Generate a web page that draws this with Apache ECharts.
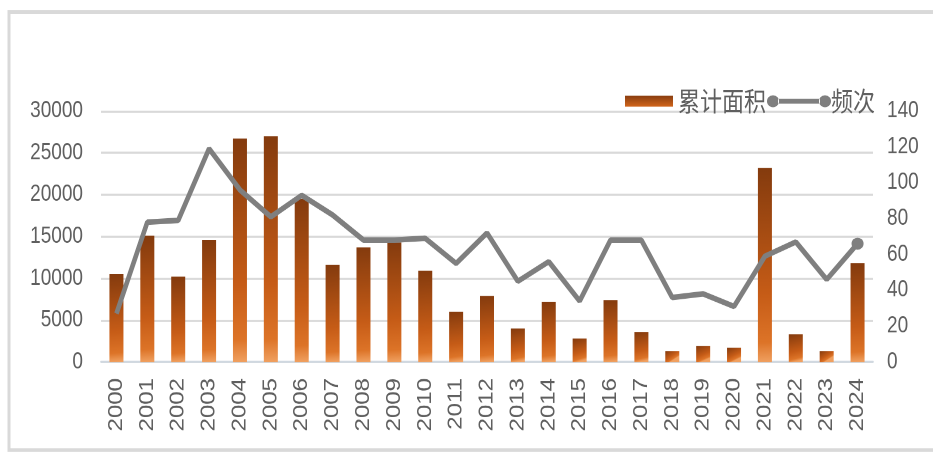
<!DOCTYPE html>
<html>
<head>
<meta charset="utf-8">
<style>
  html, body { margin: 0; padding: 0; background: #ffffff; }
  #frame { width: 933px; height: 452px; overflow: hidden; position: relative; }
  /* the chart is drawn a little shorter and stretched vertically so its text reads tall */
  #chart { width: 933px; height: 376px; transform: scaleY(1.2021); transform-origin: 0 0; }
</style>
<script src="https://cdn.jsdelivr.net/npm/echarts@6/dist/echarts.min.js"></script>
</head>
<body>
<div id="frame"><div id="chart"></div></div>
<script>
// Years on the category axis
const years = ['2000','2001','2002','2003','2004','2005','2006','2007','2008','2009',
  '2010','2011','2012','2013','2014','2015','2016','2017','2018','2019',
  '2020','2021','2022','2023','2024'];

// 累计面积 (left axis)
const areaValues = [10500, 15100, 10200, 14600, 26700, 27000, 19500, 11600, 13700, 14300,
  10900, 6000, 7900, 4000, 7200, 2800, 7400, 3600, 1300, 1900,
  1700, 23200, 3300, 1300, 11800];

// 频次 (right axis)
const countValues = [27, 78, 79, 119, 96, 81, 93, 82, 68, 68,
  69, 55, 72, 45, 56, 34, 68, 68, 36, 38,
  31, 59, 67, 46, 66];

// Axis ranges
const leftAxis = { min: 0, max: 30000, interval: 5000 };
const rightAxis = { min: 0, max: 140, interval: 20 };

// vertical stretch applied by CSS; vertical sizes below are divided by it
const S = 1.2021;
const v = px => px / S;

const textColor = '#5f5f5f';
const gridColor = '#d9d9d9';
const latinFont = '"Liberation Sans", Arial, sans-serif';
const cjkFont = '"Noto Sans CJK SC", "Noto Sans", sans-serif';

const barGradient = new echarts.graphic.LinearGradient(0, 0, 0.35, 1, [
  { offset: 0, color: '#843b0e' },
  { offset: 0.65, color: '#c65c17' },
  { offset: 0.9, color: '#dd7428' },
  { offset: 1, color: '#f0a060' }
]);
const legendBarGradient = new echarts.graphic.LinearGradient(0, 0, 0, 1, [
  { offset: 0, color: '#8a3e10' },
  { offset: 1, color: '#d2661c' }
]);

// Last point of the count line carries a round marker
const countData = countValues.map((val, i) =>
  i === countValues.length - 1 ? { value: val, symbol: 'circle', symbolSize: [12, v(12)] } : val);

// line-with-two-dots legend icon, pre-squashed so it shows round after stretching
const R = 6;
const ry = +(R / S).toFixed(2);
const t = +(2.4 / S).toFixed(2);
const W = 64;
const lineIcon = 'path://' +
  `M0,${ry}A${R},${ry} 0 1,0 ${2 * R},${ry}A${R},${ry} 0 1,0 0,${ry}Z` +
  `M${W - 2 * R},${ry}A${R},${ry} 0 1,0 ${W},${ry}A${R},${ry} 0 1,0 ${W - 2 * R},${ry}Z` +
  `M${2 * R - 1},${(ry - t).toFixed(2)}L${W - 2 * R + 1},${(ry - t).toFixed(2)}` +
  `L${W - 2 * R + 1},${(ry + t).toFixed(2)}L${2 * R - 1},${(ry + t).toFixed(2)}Z`;

const chart = echarts.init(document.getElementById('chart'), null, { renderer: 'canvas', devicePixelRatio: 2 });

chart.setOption({
  animation: false,
  backgroundColor: '#ffffff',
  graphic: [
    {
      type: 'rect',
      shape: { x: 9, y: v(12), width: 960, height: v(438) },
      style: { fill: 'none', stroke: '#d9d9d9', lineWidth: 3 },
      silent: true,
      z: -10
    }
  ],
  legend: [
    {
      data: [{ name: '累计面积', icon: 'rect', itemStyle: { color: legendBarGradient } }],
      left: 620,
      top: v(82),
      itemWidth: 48,
      itemHeight: v(11),
      itemGap: 0,
      textStyle: { color: textColor, fontSize: 22, fontFamily: cjkFont }
    },
    {
      data: [{ name: '频次', icon: lineIcon }],
      left: 762,
      top: v(82),
      itemWidth: W,
      itemHeight: 2 * ry,
      itemGap: 0,
      textStyle: { color: textColor, fontSize: 22, fontFamily: cjkFont, padding: [0, 0, 0, -5] }
    }
  ],
  grid: { left: 101, right: 60, top: v(111), bottom: v(90) },
  xAxis: {
    type: 'category',
    data: years,
    axisTick: { show: false },
    axisLine: { lineStyle: { color: '#d0d8e0', width: v(2) } },
    axisLabel: {
      rotate: 90,
      margin: v(16),
      color: textColor,
      fontSize: 20,
      fontFamily: latinFont
    }
  },
  yAxis: [
    {
      type: 'value',
      min: leftAxis.min,
      max: leftAxis.max,
      interval: leftAxis.interval,
      axisLine: { show: false },
      axisTick: { show: false },
      splitLine: { lineStyle: { color: gridColor, width: v(2) } },
      axisLabel: { margin: 18, color: textColor, fontSize: 19, fontFamily: latinFont, formatter: val => String(val) }
    },
    {
      type: 'value',
      min: rightAxis.min,
      max: rightAxis.max,
      interval: rightAxis.interval,
      axisLine: { show: false },
      axisTick: { show: false },
      splitLine: { show: false },
      axisLabel: { margin: 14, color: textColor, fontSize: 19, fontFamily: latinFont, formatter: val => String(val) }
    }
  ],
  series: [
    {
      name: '累计面积',
      type: 'bar',
      data: areaValues,
      yAxisIndex: 0,
      barWidth: 14,
      itemStyle: { color: barGradient }
    },
    {
      name: '频次',
      type: 'line',
      data: countData,
      yAxisIndex: 1,
      symbol: 'none',
      showSymbol: true,
      color: '#7f7f7f',
      lineStyle: { color: '#7f7f7f', width: 4.6 },
      itemStyle: { color: '#7f7f7f' },
      z: 3
    }
  ]
});
</script>
</body>
</html>
